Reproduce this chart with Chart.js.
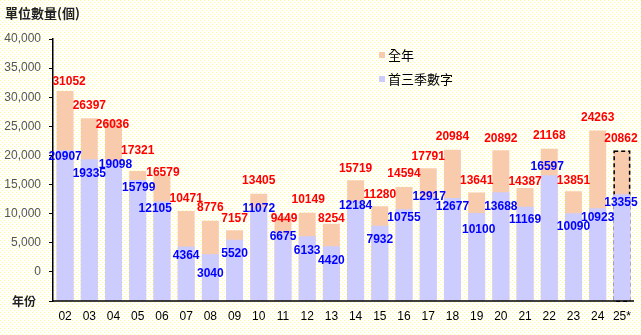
<!DOCTYPE html>
<html>
<head>
<meta charset="utf-8">
<script src="https://cdn.jsdelivr.net/npm/chart.js@4.4.1/dist/chart.umd.min.js"></script>
<style>
  html, body { margin: 0; padding: 0; background: #fffff0; }
  #wrap { width: 641px; height: 335px; position: relative; }
  canvas { display: block; }
</style>
</head>
<body>
<div id="wrap"><canvas id="c" width="641" height="335"></canvas></div>
<script>
// ---- data ----
const years = ['02','03','04','05','06','07','08','09','10','11','12','13','14','15','16','17','18','19','20','21','22','23','24','25*'];
const fullYear = [31052,26397,26036,17321,16579,10471,8776,7157,13405,9449,10149,8254,15719,11280,14594,17791,20984,13641,20892,14387,21168,13851,24263,20862];
const firstThreeQuarters = [20907,19335,19098,15799,12105,4364,3040,5520,11072,6675,6133,4420,12184,7932,10755,12917,12677,10100,13688,11169,16597,10090,10923,13355];
const seriesNames = ['全年', '首三季數字'];
const yTitle = '單位數量(個)';
const xTitle = '年份';

// ---- label nudges (relative to bar top, px) ----
const redDy = [-9,-13,4,-20,-3,-12,-13,-12,-13,2,-13,-5,-12,-12,-13,-12,-13,-12,-12,-6.5,-13,-10.5,-13,-12];
const redDx = [4,0,-1,0,1,0,0,0,0,1,1,0,0,0,0,0,0,0,0,0,0,0,0,-1];
const blueDy = [7,14,3.7,7.5,7.6,9,19,14,1,3.6,14.5,14.5,5,14.3,8.4,0,8.6,17,14,13,-8.5,14,9,9];
const blueDx = [0,0,2,1,-6.7,0,0,0,0,0,0,0,0,0,0,1,0,2,0,0,-2,0,0,-1];

// background dotted pattern
(function(){
  const t = document.createElement('canvas'); t.width = 4; t.height = 4;
  const g = t.getContext('2d');
  g.fillStyle = '#ffffff'; g.fillRect(0,0,4,4);
  g.fillStyle = '#ffff88'; g.fillRect(0,0,1,1); g.fillRect(2,2,1,1);
  document.body.style.background = 'url(' + t.toDataURL() + ')';
})();

const ORANGE = '#F8CBAD';
const BLUE = '#CCCCFF';
const LATIN = '"Liberation Sans", Arial, sans-serif';
const CJK = '"Noto Sans CJK TC", "Noto Sans CJK SC", sans-serif';

const decorations = {
  id: 'decorations',
  afterDatasetDraw(chart, args) {
    if (args.index !== 0) return;
    const meta = chart.getDatasetMeta(0);
    const el = meta.data[meta.data.length - 1];
    const ctx = chart.ctx;
    const half = el.width / 2;
    ctx.save();
    ctx.strokeStyle = '#000';
    ctx.lineWidth = 1.5;
    ctx.setLineDash([4, 3]);
    ctx.strokeRect(el.x - half + 0.75, el.y + 0.75, el.width - 1.5, el.base - el.y);
    ctx.restore();
  },
  afterDatasetsDraw(chart) {
    const ctx = chart.ctx;
    ctx.save();
    ctx.textAlign = 'center';
    ctx.textBaseline = 'middle';
    ctx.font = 'bold 12px ' + LATIN;
    const m0 = chart.getDatasetMeta(0), m1 = chart.getDatasetMeta(1);
    m0.data.forEach((el, i) => {
      ctx.fillStyle = '#FF0000';
      ctx.fillText(String(fullYear[i]), el.x + redDx[i], el.y + redDy[i]);
    });
    m1.data.forEach((el, i) => {
      ctx.fillStyle = '#0000FF';
      ctx.fillText(String(firstThreeQuarters[i]), el.x + blueDx[i], el.y + blueDy[i]);
    });
    // legend
    ctx.textAlign = 'left';
    ctx.font = '13px ' + CJK;
    ctx.fillStyle = ORANGE; ctx.fillRect(379, 52, 6, 6);
    ctx.fillStyle = '#000'; ctx.fillText(seriesNames[0], 388, 55);
    ctx.fillStyle = BLUE; ctx.fillRect(379, 76, 6, 6);
    ctx.fillStyle = '#000'; ctx.fillText(seriesNames[1], 388, 79);
    // titles
    ctx.font = 'bold 13px ' + CJK;
    ctx.fillStyle = '#222';
    ctx.fillText(yTitle, 5, 13);
    ctx.font = 'bold 12px ' + CJK;
    ctx.fillText(xTitle, 12, 301);
    ctx.restore();
  }
};

new Chart(document.getElementById('c'), {
  type: 'bar',
  data: {
    labels: years,
    datasets: [
      { label: seriesNames[0], data: fullYear, backgroundColor: ORANGE, base: -5000, grouped: false, order: 2,
        barPercentage: 0.7, categoryPercentage: 1.0 },
      { label: seriesNames[1], data: firstThreeQuarters, backgroundColor: BLUE, base: -5000, grouped: false, order: 1,
        barPercentage: 0.7, categoryPercentage: 1.0 }
    ]
  },
  options: {
    responsive: false,
    devicePixelRatio: 1,
    animation: false,
    layout: { padding: { top: 39, right: 7, bottom: 0, left: 0 } },
    plugins: { legend: { display: false }, tooltip: { enabled: false }, title: { display: false } },
    scales: {
      x: {
        grid: { display: false, drawTicks: false },
        border: { display: false },
        ticks: { color: '#000', font: { family: LATIN, size: 12 }, padding: 8, maxRotation: 0, autoSkip: false },
        afterFit(s) { s.height = 34; }
      },
      y: {
        min: -5000, max: 40000,
        grid: { drawOnChartArea: false, drawTicks: true, tickLength: 4, color: '#000', tickWidth: 1 },
        border: { display: true, color: '#000', width: 1.5 },
        ticks: {
          stepSize: 5000, color: '#555', padding: 8,
          font: { family: LATIN, size: 12 },
          callback: (v) => v < 0 ? '' : v.toLocaleString('en-US')
        },
        afterFit(s) { s.width = 53; }
      }
    }
  },
  plugins: [decorations, {
    id: 'xaxisline',
    afterDatasetsDraw(chart) {
      const a = chart.chartArea, ctx = chart.ctx;
      ctx.save();
      ctx.strokeStyle = '#000'; ctx.lineWidth = 1.5;
      ctx.beginPath(); ctx.moveTo(a.left, a.bottom); ctx.lineTo(a.right, a.bottom); ctx.stroke();
      ctx.restore();
    }
  }]
});
</script>
</body>
</html>
